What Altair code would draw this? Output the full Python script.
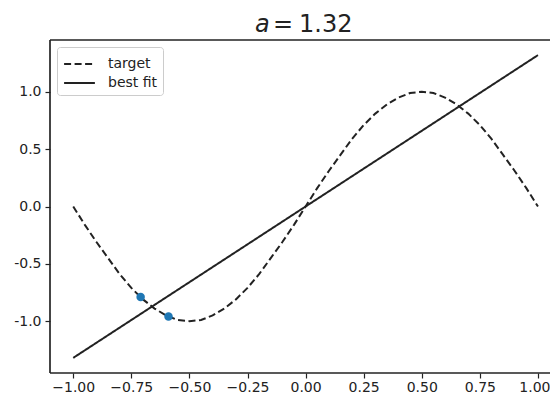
import altair as alt
import pandas as pd

# ---- data ----
target_x = [-1.00, -0.95, -0.90, -0.85, -0.80, -0.75, -0.70, -0.65, -0.60, -0.55,
            -0.50, -0.45, -0.40, -0.35, -0.30, -0.25, -0.20, -0.15, -0.10, -0.05,
            0.00, 0.05, 0.10, 0.15, 0.20, 0.25, 0.30, 0.35, 0.40, 0.45,
            0.50, 0.55, 0.60, 0.65, 0.70, 0.75, 0.80, 0.85, 0.90, 0.95, 1.00]
target_y = [0.00, -0.16, -0.31, -0.45, -0.59, -0.71, -0.81, -0.89, -0.95, -0.99,
            -1.00, -0.99, -0.95, -0.89, -0.81, -0.71, -0.59, -0.45, -0.31, -0.16,
            0.00, 0.16, 0.31, 0.45, 0.59, 0.71, 0.81, 0.89, 0.95, 0.99,
            1.00, 0.99, 0.95, 0.89, 0.81, 0.71, 0.59, 0.45, 0.31, 0.16, 0.00]
fit_x = [-1.0, 1.0]
fit_y = [-1.32, 1.32]
pts_x = [-0.71, -0.59]
pts_y = [-0.79, -0.96]
x_ticks = [-1.0, -0.75, -0.5, -0.25, 0.0, 0.25, 0.5, 0.75, 1.0]
y_ticks = [-1.0, -0.5, 0.0, 0.5, 1.0]
series_names = ["target", "best fit"]
title_var = "a"
title_eq = "="
title_val = "1.32"

W, H = 507, 333
INK = "#222222"

lines_df = pd.concat([
    pd.DataFrame({"x": target_x, "y": target_y, "series": series_names[0]}),
    pd.DataFrame({"x": fit_x, "y": fit_y, "series": series_names[1]}),
])
pts_df = pd.DataFrame({"x": pts_x, "y": pts_y})

xscale = alt.Scale(domain=[-1.1, 1.082], nice=False, zero=False)
yscale = alt.Scale(domain=[-1.452, 1.452], nice=False, zero=False)

xaxis = alt.Axis(values=x_ticks, format=".2f", title=None, grid=False,
                 domain=False, tickSize=5, labelPadding=2, labelFontSize=14,
                 labelColor=INK, tickColor=INK, tickWidth=1.2,
                 labelFont="DejaVu Sans", labelFlush=20, labelFlushOffset=12)
yaxis = alt.Axis(values=y_ticks, format=".1f", title=None, grid=False,
                 domain=False, tickSize=5, labelPadding=4, labelFontSize=14,
                 labelColor=INK, tickColor=INK, tickWidth=1.2,
                 labelFont="DejaVu Sans",
                 labelExpr="replace(datum.label, '\u2212', '-')")

lines = alt.Chart(lines_df).mark_line(color=INK, strokeWidth=2).encode(
    x=alt.X("x:Q", scale=xscale, axis=xaxis),
    y=alt.Y("y:Q", scale=yscale, axis=yaxis),
    strokeDash=alt.StrokeDash(
        "series:N",
        scale=alt.Scale(domain=series_names, range=[[7, 3.5], [1, 0]]),
        legend=alt.Legend(title=None, orient="none", legendX=7, legendY=7,
                          symbolType="M-0.9,0H1.9", symbolSize=484,
                          symbolStrokeWidth=2, symbolStrokeColor=INK,
                          labelFontSize=14, labelFont="DejaVu Sans",
                          labelColor=INK, labelOffset=22, rowPadding=0,
                          padding=5, cornerRadius=3, strokeColor="#cccccc",
                          fillColor="white"),
    ),
)

points = alt.Chart(pts_df).mark_circle(size=72, opacity=1, color="#1f77b4").encode(
    x=alt.X("x:Q", scale=xscale),
    y=alt.Y("y:Q", scale=yscale),
)

border_top = alt.Chart(pts_df).mark_rule(color=INK, strokeWidth=1.2).encode(
    x=alt.value(0), x2=alt.value(W), y=alt.value(0)
)
border_bottom = alt.Chart(pts_df).mark_rule(color=INK, strokeWidth=1.2).encode(
    x=alt.value(0), x2=alt.value(W), y=alt.value(H)
)
border_left = alt.Chart(pts_df).mark_rule(color=INK, strokeWidth=1.2).encode(
    x=alt.value(0), y=alt.value(0), y2=alt.value(H)
)

def title_piece(txt, xpos, italic=False):
    kw = dict(fontSize=24, font="DejaVu Sans", align="left",
              baseline="alphabetic", color=INK)
    if italic:
        kw["fontStyle"] = "italic"
    return alt.Chart(pd.DataFrame({"t": [txt]})).mark_text(**kw).encode(
        text="t:N", x=alt.value(xpos), y=alt.value(-8))

t1 = title_piece(title_var, 205, italic=True)
t2 = title_piece(title_eq, 223)
t3 = title_piece(title_val, 249)

chart = alt.layer(lines, points, border_top, border_bottom, border_left,
                  t1, t2, t3).properties(
    width=W, height=H,
    autosize=alt.AutoSizeParams(type="none"),
    padding={"left": 42, "top": 32, "right": -7, "bottom": 20},
).configure_view(strokeWidth=0)

chart.save("out.html", embed_options={"renderer": "svg", "actions": False})
